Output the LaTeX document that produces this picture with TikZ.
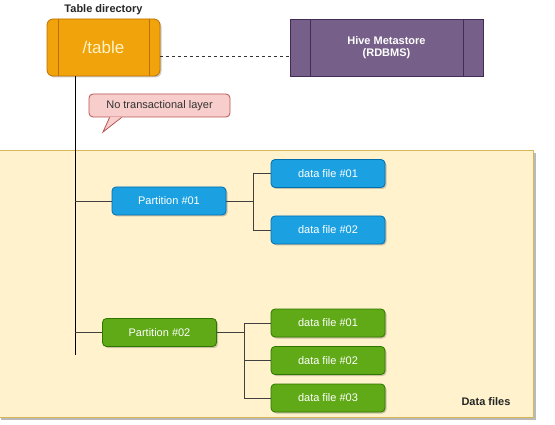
\documentclass[tikz,border=0pt]{standalone}
\usepackage{fontspec}
\setmainfont{Liberation Sans}
\usetikzlibrary{shadows}
\definecolor{orangefill}{HTML}{F0A30A}
\definecolor{orangeline}{HTML}{BD7000}
\definecolor{tabletext}{HTML}{FFF4C8}
\definecolor{purplefill}{HTML}{76608A}
\definecolor{purpleline}{HTML}{432D57}
\definecolor{calloutfill}{HTML}{F8CECC}
\definecolor{calloutline}{HTML}{B85450}
\definecolor{bluefill}{HTML}{1BA1E2}
\definecolor{blueline}{HTML}{006EAF}
\definecolor{greenfill}{HTML}{60A917}
\definecolor{greenline}{HTML}{2D7600}
\definecolor{yellowfill}{HTML}{FFF2CC}
\definecolor{yellowline}{HTML}{D6B656}
\begin{document}
\begin{tikzpicture}
		[x=1pt, y=-1pt,
		every node/.style={font=\fontsize{11}{12.5}\selectfont, align=center, inner sep=0pt},
		caption/.style={font=\fontsize{11}{12.5}\selectfont\bfseries, text=black!85},
		softshadow/.style={drop shadow={shadow xshift=1.5pt, shadow yshift=-1.5pt, fill=black, opacity=0.2}},
		filebox/.style={draw, rounded corners=4pt, line width=0.8pt, minimum width=114pt, minimum height=28pt, text=white, softshadow},
		bluebox/.style={filebox, fill=bluefill, draw=blueline},
		greenbox/.style={filebox, fill=greenfill, draw=greenline},
		link/.style={draw=black!75, line width=0.8pt},
		]
		\useasboundingbox (0,0) rectangle (555,425);

		% Behaelter fuer die Datendateien
		\node[draw=yellowline, fill=yellowfill, line width=0.8pt, minimum width=535pt, minimum height=267pt,
			drop shadow={shadow xshift=3pt, shadow yshift=-3pt, fill=black!45, opacity=0.6}] (store) at (265.5,283.5) {};
		\node[caption] (datalabel) at (486,402) {Data files};

		\node[caption] (tabledir) at (103.5,10) {Table directory};
		\node[draw=orangeline, fill=orangefill, line width=0.8pt, rounded corners=6pt, minimum width=113pt, minimum height=57pt,
			font=\fontsize{17}{20}\selectfont, text=tabletext, softshadow] (table) at (103.5,47.5) {/table};
		\draw[orangeline, line width=0.8pt] ([xshift=12pt]table.north west) -- ([xshift=12pt]table.south west);
		\draw[orangeline, line width=0.8pt] ([xshift=-11pt]table.north east) -- ([xshift=-11pt]table.south east);

		\node[draw=purpleline, fill=purplefill, line width=0.8pt, minimum width=193pt, minimum height=57pt,
			font=\fontsize{11}{12.5}\selectfont\bfseries, text=white] (hive) at (386.5,47.5) {Hive Metastore\\(RDBMS)};
		\draw[purpleline, line width=0.8pt] ([xshift=21pt]hive.north west) -- ([xshift=21pt]hive.south west);
		\draw[purpleline, line width=0.8pt] ([xshift=-20pt]hive.north east) -- ([xshift=-20pt]hive.south east);
		\draw[black!80, line width=0.6pt, dashed] ([yshift=-9pt]table.east) -- ([yshift=-9pt]hive.west);

		\node[draw=calloutline, fill=calloutfill, line width=0.8pt, rounded corners=4pt, minimum width=141pt, minimum height=23pt,
			text=black!80] (nolayer) at (159.5,105.5) {No transactional layer};
		\coordinate (tailtip) at (103,132);
		\fill[calloutfill] ([xshift=21pt,yshift=0.6pt]nolayer.south west) -- (tailtip) -- ([xshift=33pt,yshift=0.6pt]nolayer.south west) -- cycle;
		\draw[calloutline, line width=0.8pt] ([xshift=21pt]nolayer.south west) -- (tailtip) -- ([xshift=33pt]nolayer.south west);

		\node[bluebox] (part1) at (169,201) {Partition \#01};
		\node[bluebox] (file11) at (328,173.5) {data file \#01};
		\node[bluebox] (file12) at (328,230) {data file \#02};

		\node[greenbox] (part2) at (159.5,332.5) {Partition \#02};
		\node[greenbox] (file21) at (328,323) {data file \#01};
		\node[greenbox] (file22) at (328,360.5) {data file \#02};
		\node[greenbox] (file23) at (328,398) {data file \#03};

		\coordinate (trunkend) at (75,355);
		\draw[black, line width=0.8pt] (table.south -| trunkend) -- (trunkend);
		\draw[link] (trunkend |- part1.west) -- (part1.west);
		\draw[link] (trunkend |- part2.west) -- (part2.west);
		\foreach \f in {file11,file12}
			\draw[link] (part1.east) -- ++(27,0) |- (\f.west);
		\foreach \f in {file21,file22,file23}
			\draw[link] (part2.east) -- ++(27,0) |- (\f.west);
	\end{tikzpicture}
\end{document}
